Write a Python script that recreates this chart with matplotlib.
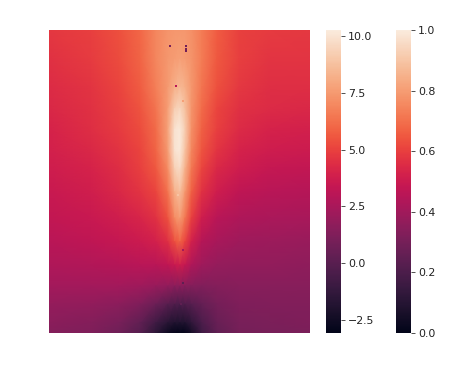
import numpy as np
import matplotlib
matplotlib.use("Agg")
import matplotlib.pyplot as plt
import seaborn as sns
from matplotlib.colors import Normalize
from matplotlib.cm import ScalarMappable

W, H = 459, 369
col_pos = [0, 16, 27, 35, 41, 45.5, 48.2, 50.2, 52.2, 54.7, 58.7, 64.5, 73, 85, 100]
row_pos = [0, 11, 22, 30, 38, 46, 53, 62, 72, 81, 90, 98, 105, 112, 116]
field = [
 [4.7, 4.9, 5.4, 6.0, 6.9, 7.3, 7.4, 7.4, 7.4, 7.2, 6.6, 5.7, 5.0, 4.8, 4.7],
 [4.5, 4.8, 5.3, 5.9, 6.9, 7.4, 7.6, 7.7, 7.6, 7.3, 6.6, 5.6, 4.9, 4.6, 4.6],
 [4.3, 4.6, 5.1, 5.7, 6.7, 7.5, 8.2, 8.5, 8.2, 7.4, 6.4, 5.4, 4.7, 4.4, 4.4],
 [4.2, 4.5, 4.9, 5.5, 6.4, 7.6, 9.2, 9.5, 8.8, 7.3, 6.1, 5.1, 4.5, 4.3, 4.2],
 [4.0, 4.4, 4.8, 5.3, 6.1, 7.7, 9.9, 10.2, 9.2, 7.2, 5.8, 4.9, 4.3, 4.0, 3.9],
 [3.9, 4.2, 4.6, 5.1, 5.9, 7.5, 9.9, 10.2, 8.9, 6.9, 5.5, 4.6, 4.0, 3.7, 3.6],
 [3.7, 4.0, 4.4, 4.9, 5.6, 7.0, 9.3, 9.7, 8.3, 6.5, 5.1, 4.2, 3.7, 3.4, 3.3],
 [3.5, 3.8, 4.2, 4.6, 5.1, 6.3, 8.2, 8.7, 7.5, 5.8, 4.5, 3.7, 3.2, 3.0, 2.9],
 [3.3, 3.5, 3.8, 4.1, 4.5, 5.4, 7.0, 7.6, 6.5, 4.9, 3.7, 3.0, 2.7, 2.6, 2.5],
 [3.0, 3.2, 3.4, 3.6, 3.9, 4.4, 5.4, 5.9, 5.1, 3.9, 2.9, 2.5, 2.2, 2.1, 2.0],
 [2.7, 2.8, 2.9, 3.0, 3.0, 3.2, 3.5, 3.7, 3.4, 2.7, 2.2, 1.9, 1.8, 1.8, 1.7],
 [2.3, 2.3, 2.3, 2.2, 2.0, 1.8, 1.6, 1.6, 1.5, 1.4, 1.3, 1.4, 1.5, 1.5, 1.5],
 [1.9, 1.8, 1.6, 1.2, 0.6, 0.0, -0.3, -0.4, -0.3, -0.1, 0.4, 0.9, 1.2, 1.3, 1.3],
 [1.6, 1.4, 1.0, 0.3, -0.8, -1.6, -1.9, -1.9, -1.9, -1.4, -0.4, 0.5, 1.0, 1.1, 1.2],
 [1.4, 1.2, 0.7, -0.1, -1.5, -2.6, -3.0, -3.07, -3.0, -2.3, -0.8, 0.3, 0.9, 1.0, 1.1],
]
speck_col = [46.5, 52.6, 52.6, 52.6, 48.7, 51.4, 49.5, 51.4, 51.4, 50.6]
speck_row = [6.1, 6.2, 7.2, 8.2, 21.5, 27.2, 63.2, 84.3, 96.9, 105]
speck_val = [1.0, 0.8, 0.8, 0.8, 3.0, 7.7, 8.9, 2.4, 0.2, 0.2]
cbar1_ticks = [-2.5, 0.0, 2.5, 5.0, 7.5, 10.0]
cbar2_ticks = [0.0, 0.2, 0.4, 0.6, 0.8, 1.0]
vmin, vmax = -3.07, 10.26

cmap = sns.color_palette("rocket", as_cmap=True)
norm = Normalize(vmin, vmax)

fig = plt.figure(figsize=(W / 100, H / 100), dpi=100)

def box(x0, y0, x1, y1):
    return [x0 / W, 1 - y1 / H, (x1 - x0) / W, (y1 - y0) / H]

ax = fig.add_axes(box(49, 30, 309.5, 333))
ax.pcolormesh(col_pos, row_pos, np.array(field), cmap=cmap, norm=norm,
              shading="gouraud", rasterized=True)
ax.scatter(speck_col, speck_row, c=speck_val, cmap=cmap, norm=norm,
           marker="s", s=2, linewidths=0)
ax.set_xlim(0, 100)
ax.set_ylim(116, 0)
ax.axis("off")

for rect, mappable_norm, ticks in [
    (box(326, 30, 341, 333), norm, cbar1_ticks),
    (box(396, 30, 411, 333), Normalize(0, 1), cbar2_ticks),
]:
    cax = fig.add_axes(rect)
    cb = fig.colorbar(ScalarMappable(norm=mappable_norm, cmap=cmap), cax=cax)
    cb.set_ticks(ticks)
    cb.outline.set_linewidth(0)
    cb.ax.tick_params(labelsize=7.9, length=2.6, width=0.6, pad=2.5,
                      color="#333333", labelcolor="#222222")

fig.savefig("out.png", dpi=100)
